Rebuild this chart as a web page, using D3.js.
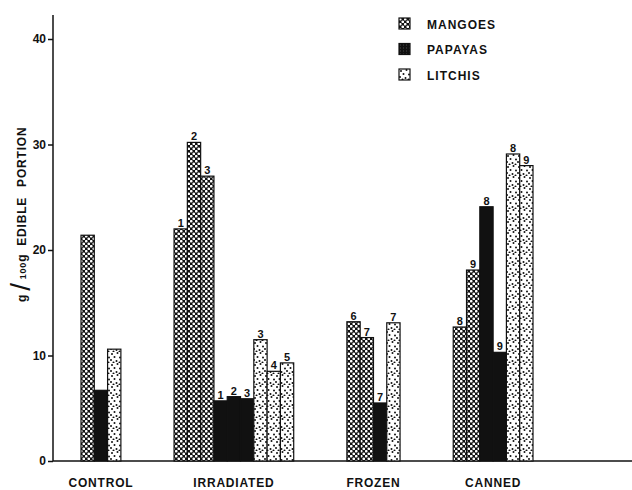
<!DOCTYPE html>
<html>
<head>
<meta charset="utf-8">
<script src="https://cdn.jsdelivr.net/npm/d3@7"></script>
<style>
  body { margin: 0; background: #fff; }
  text { font-family: "Liberation Sans", Arial, sans-serif; font-weight: bold; fill: #111; }
</style>
</head>
<body>
<div id="chart"></div>
<script>
/* grouped bars: vitamin-ish content per treatment */

const width = 632, height = 490;

const categories = ["CONTROL", "IRRADIATED", "FROZEN", "CANNED"];
const fruits = ["MANGOES", "PAPAYAS", "LITCHIS"];

// one inner list per category
const mangoes = [[21.4], [22.0, 30.2, 27.0], [13.2, 11.7], [12.7, 18.1]];
const mangoLabels = [[""], ["1", "2", "3"], ["6", "7"], ["8", "9"]];
const papayas = [[6.7], [5.7, 6.1, 5.9], [5.5], [24.1, 10.3]];
const papayaLabels = [[""], ["1", "2", "3"], ["7"], ["8", "9"]];
const litchis = [[10.6], [11.5, 8.5, 9.3], [13.1], [29.1, 28.0]];
const litchiLabels = [[""], ["3", "4", "5"], ["7"], ["8", "9"]];

const yTicks = [0, 10, 20, 30, 40];

const svg = d3.select("#chart")
    .append("svg")
    .attr("width", width)
    .attr("height", height);

const defs = svg.append("defs");

// mangoes: white cells on black, offset rows (honeycomb look)
const pm = defs.append("pattern")
    .attr("id", "mango").attr("patternUnits", "userSpaceOnUse")
    .attr("width", 5).attr("height", 5);
pm.append("rect").attr("width", 5).attr("height", 5).attr("fill", "#111");
[[1.25, 1.25], [3.75, 3.75]].forEach(p =>
    pm.append("circle").attr("cx", p[0]).attr("cy", p[1]).attr("r", 1.35).attr("fill", "#fff"));

// litchis: black speckles on white
const pl = defs.append("pattern")
    .attr("id", "litchi").attr("patternUnits", "userSpaceOnUse")
    .attr("width", 11).attr("height", 11);
pl.append("rect").attr("width", 11).attr("height", 11).attr("fill", "#fff");
[[2, 2], [7.5, 1], [4.5, 5], [10, 5.5], [1, 8], [6.5, 9], [9.5, 10.5], [3.5, 10.5]].forEach(p =>
    pl.append("circle").attr("cx", p[0]).attr("cy", p[1]).attr("r", 1).attr("fill", "#111"));

// papayas legend swatch: dark with faint texture
const pp = defs.append("pattern")
    .attr("id", "papaya").attr("patternUnits", "userSpaceOnUse")
    .attr("width", 3).attr("height", 3);
pp.append("rect").attr("width", 3).attr("height", 3).attr("fill", "#111");
pp.append("circle").attr("cx", 1.5).attr("cy", 1.5).attr("r", 0.6).attr("fill", "#555");

const fills = { MANGOES: "url(#mango)", PAPAYAS: "#111", LITCHIS: "url(#litchi)" };

// flatten into bars with a slot index; gap of 4 slots between groups
const series = [mangoes, papayas, litchis];
const seriesLabels = [mangoLabels, papayaLabels, litchiLabels];
let bars = [], groups = [], slot = 0;
categories.forEach((c, ci) => {
    let start = slot;
    series.forEach((s, si) => {
        s[ci].forEach((v, k) => {
            bars.push({ cat: c, fruit: fruits[si], value: v, label: seriesLabels[si][ci][k], slot: slot });
            slot++;
        });
    });
    groups.push({ cat: c, start: start, end: slot });
    slot += 4;
});
const nSlots = slot - 4;

const x = d3.scaleLinear()
    .domain([0, nSlots])
    .range([81, 533]);

const y = d3.scaleLinear()
    .domain([0, 40])
    .range([461, 39]);

// y axis
svg.append("g")
    .attr("transform", "translate(53,0)")
    .call(d3.axisLeft(y).tickValues(yTicks).tickSize(5).tickPadding(2).tickSizeOuter(0))
    .call(g => g.select(".domain").remove())
    .call(g => g.selectAll("line").attr("stroke", "#111").attr("stroke-width", 1.5))
    .call(g => g.selectAll("text").style("font-size", "12px").attr("font-family", null));

svg.append("line")
    .attr("x1", 53).attr("x2", 53)
    .attr("y1", 15).attr("y2", y(0))
    .attr("stroke", "#111").attr("stroke-width", 1.5);

svg.append("line")
    .attr("x1", 53).attr("x2", width)
    .attr("y1", y(0)).attr("y2", y(0))
    .attr("stroke", "#111").attr("stroke-width", 1.5);

// bars
svg.append("g")
    .selectAll("rect")
    .data(bars)
    .join("rect")
    .attr("x", d => x(d.slot))
    .attr("width", d => x(d.slot + 1) - x(d.slot))
    .attr("y", d => y(d.value))
    .attr("height", d => y(0) - y(d.value))
    .attr("fill", d => fills[d.fruit])
    .attr("stroke", "#111")
    .attr("stroke-width", 1.2);

// numbers over the bars
svg.append("g")
    .selectAll("text")
    .data(bars.filter(d => d.label))
    .join("text")
    .attr("x", d => x(d.slot + 0.5))
    .attr("y", d => y(d.value) - 2)
    .attr("text-anchor", "middle")
    .style("font-size", "11px")
    .text(d => d.label);

// category names
svg.append("g")
    .selectAll("text")
    .data(groups)
    .join("text")
    .attr("x", d => x((d.start + d.end) / 2))
    .attr("y", 487)
    .attr("text-anchor", "middle")
    .style("font-size", "12px")
    .style("letter-spacing", "0.8px")
    .text(d => d.cat);

// y label
const yl = svg.append("text")
    .attr("transform", "translate(26,302) rotate(-90)")
    .style("font-size", "12px")
    .style("letter-spacing", "0.8px");
yl.append("tspan").text("g");
yl.append("tspan").attr("dx", 3).style("font-size", "28px").style("font-weight", "normal").attr("dy", 4).text("/");
yl.append("tspan").attr("dx", 3).attr("dy", -4).style("font-size", "9px").text("100");
yl.append("tspan").text("g");
yl.append("tspan").attr("dx", 8).text("EDIBLE");
yl.append("tspan").attr("dx", 10).text("PORTION");

// legend
const legend = svg.append("g")
    .selectAll("g")
    .data(fruits)
    .join("g")
    .attr("transform", (d, i) => `translate(399,${18 + i * 25.5})`);

legend.append("rect")
    .attr("width", 11).attr("height", 11)
    .attr("fill", d => d === "PAPAYAS" ? "url(#papaya)" : fills[d])
    .attr("stroke", "#111").attr("stroke-width", 1.2);

legend.append("text")
    .attr("x", 28).attr("y", 10.5)
    .style("font-size", "12px")
    .style("letter-spacing", "1px")
    .text(d => d);
</script>
</body>
</html>
